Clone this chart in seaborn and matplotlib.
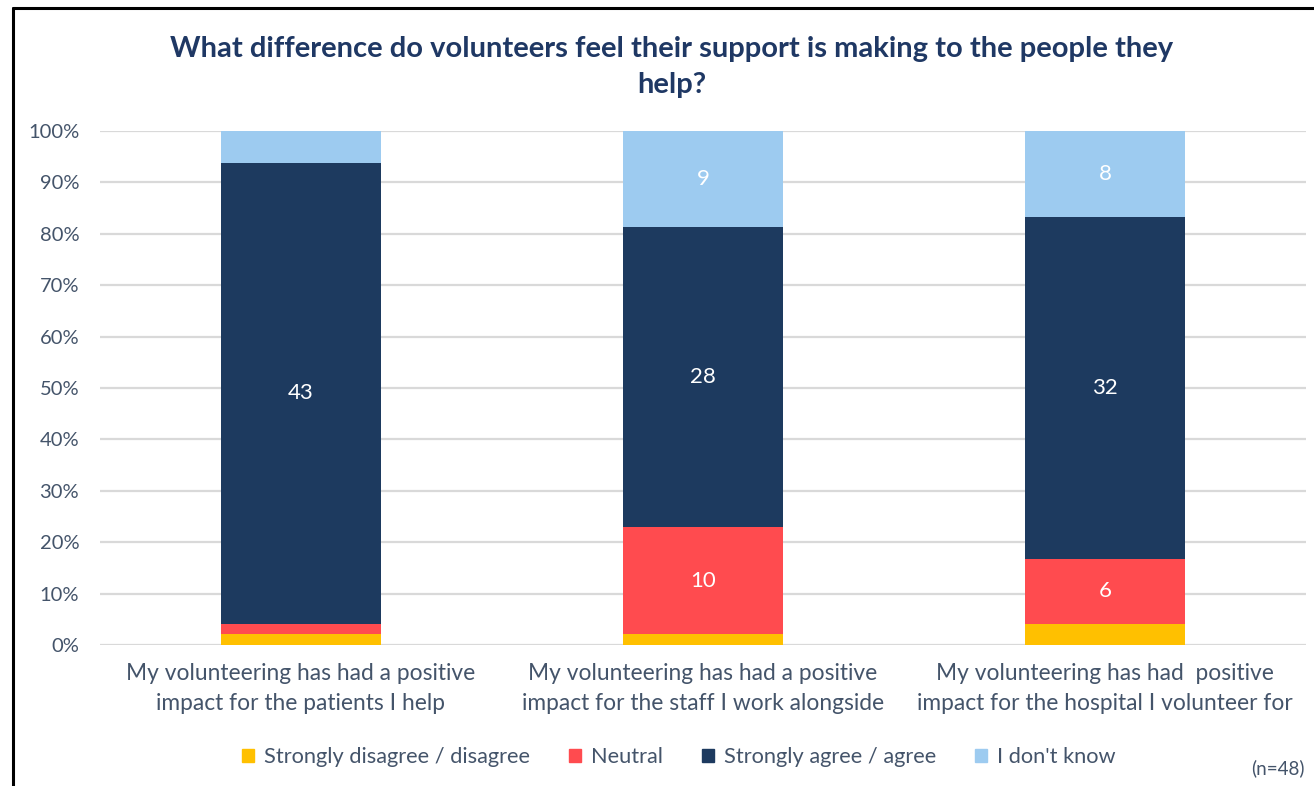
import matplotlib
matplotlib.use("Agg")
import matplotlib.pyplot as plt
import matplotlib.patches as mpatches
import matplotlib.lines as mlines
from matplotlib.ticker import FuncFormatter
import numpy as np
import pandas as pd
import seaborn as sns

# Survey responses (counts, n = 48)
statements = [
    "My volunteering has had a positive\nimpact for the patients I help",
    "My volunteering has had a positive\nimpact for the staff I work alongside",
    "My volunteering has had  positive\nimpact for the hospital I volunteer for",
]
responses = ["Strongly disagree / disagree", "Neutral", "Strongly agree / agree", "I don't know"]
disagree = [1, 1, 2]
neutral = [1, 10, 6]
agree = [43, 28, 32]
dont_know = [3, 9, 8]
n_total = 48

colors = ["#FFC000", "#FF4B4F", "#1D3A5F", "#9DCBF0"]
text_col = "#44546A"
title_col = "#1F3864"

sns.set_theme(style="white")
plt.rcParams["font.family"] = ["Lato", "DejaVu Sans"]

counts = np.array([disagree, neutral, agree, dont_know], dtype=float)
pct = counts / n_total * 100
cum = np.cumsum(pct, axis=0)

fig = plt.figure(figsize=(13.14, 7.86), dpi=100)
ax = fig.add_axes([100 / 1314, 1 - 645 / 786, 1206 / 1314, 514 / 786])

# Stacked bars: draw cumulative totals from the top segment down
for i in range(len(responses) - 1, -1, -1):
    df = pd.DataFrame({"statement": statements, "value": cum[i]})
    sns.barplot(data=df, x="statement", y="value", color=colors[i],
                width=0.4, saturation=1, ax=ax, zorder=3, linewidth=0)

# Count labels on the larger segments
for i in range(len(responses)):
    for j in range(len(statements)):
        if counts[i, j] >= 5:
            mid = cum[i, j] - pct[i, j] / 2
            ax.text(j, mid, f"{int(counts[i, j])}", ha="center", va="center",
                    color="white", fontsize=16, zorder=4)

ax.set_ylim(0, 100)
ax.set_xlim(-0.5, 2.5)
ax.set_yticks(np.arange(0, 101, 10))
ax.yaxis.set_major_formatter(FuncFormatter(lambda v, p: f"{int(v)}%"))
ax.grid(axis="y", color="#D9D9D9", linewidth=1.6, zorder=0)
ax.set_axisbelow(True)
for s in ax.spines.values():
    s.set_visible(False)
ax.set_xlabel("")
ax.set_ylabel("")
ax.tick_params(axis="y", colors=text_col, labelsize=14.5, length=0, pad=15)
ax.tick_params(axis="x", colors=text_col, labelsize=16.4, length=0, pad=13)
for lbl in ax.get_xticklabels():
    lbl.set_linespacing(1.5)

fig.text(672 / 1314, 1 - 67 / 786,
         "What difference do volunteers feel their support is making to the people they\nhelp?",
         ha="center", va="center", fontsize=21, fontweight="bold", color=title_col,
         linespacing=1.52)

handles = [mpatches.Patch(color=c, label=r) for c, r in zip(colors, responses)]
fig.legend(handles=handles, loc="center", bbox_to_anchor=(679 / 1314, 1 - 757 / 786),
           ncol=4, frameon=False, fontsize=15.7, labelcolor=text_col,
           handlelength=0.55, handleheight=0.55, handletextpad=0.45, columnspacing=1.8)

fig.text(1305 / 1314, 1 - 768 / 786, f"(n={n_total})", ha="right", va="center",
         fontsize=13.5, color=text_col)

# Outer frame (left and top edges)
fig.add_artist(mlines.Line2D([13 / 1314, 13 / 1314], [0, 1 - 8 / 786],
                             color="black", linewidth=2.2, transform=fig.transFigure))
fig.add_artist(mlines.Line2D([13 / 1314, 1], [1 - 8 / 786, 1 - 8 / 786],
                             color="black", linewidth=2.2, transform=fig.transFigure))

fig.savefig("out.png", dpi=100, facecolor="white")
